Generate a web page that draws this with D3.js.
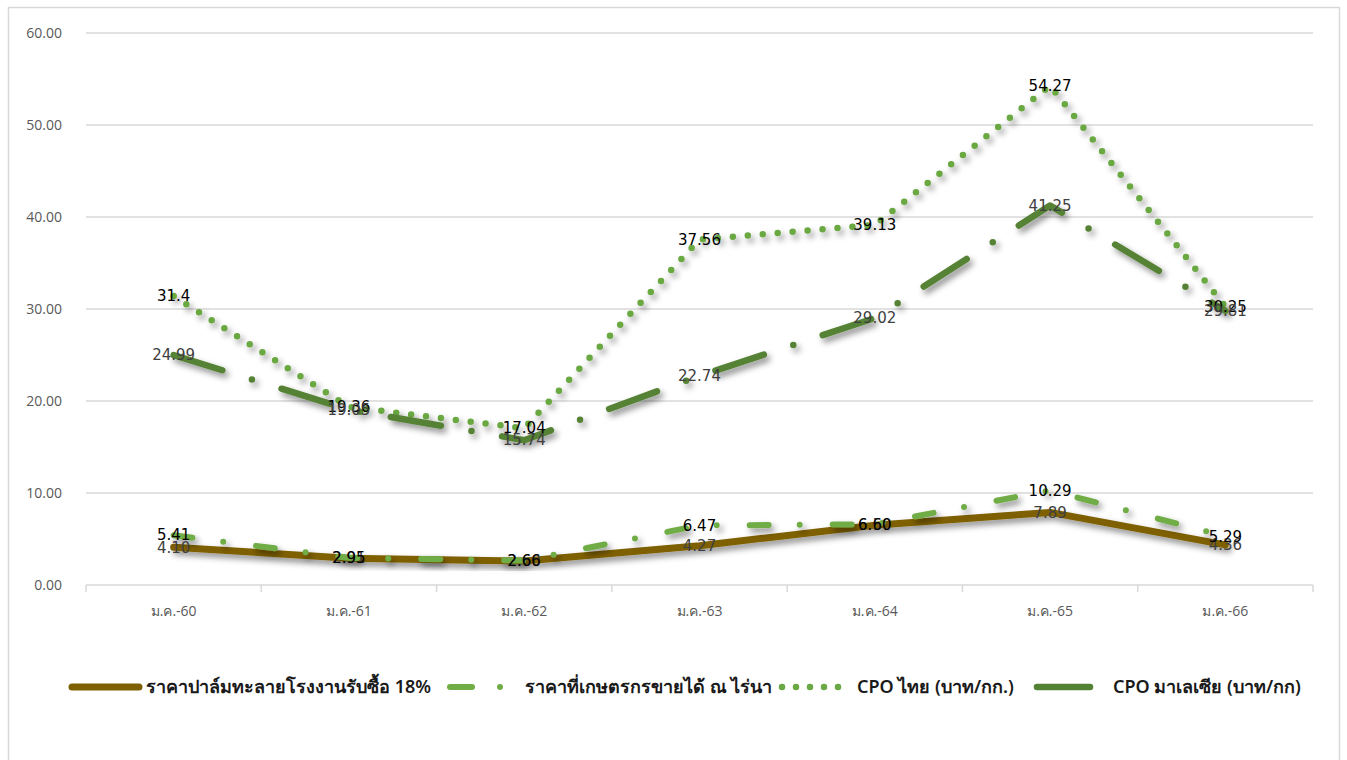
<!DOCTYPE html>
<html><head><meta charset="utf-8">
<script src="https://cdn.jsdelivr.net/npm/d3@7"></script>
<style>
body{margin:0;background:#fff;}
svg{display:block;}
</style></head>
<body>
<svg id="chart" width="1347" height="760"></svg>
<script>
const categories = ["ม.ค.-60","ม.ค.-61","ม.ค.-62","ม.ค.-63","ม.ค.-64","ม.ค.-65","ม.ค.-66"];
const palmFactory = [4.10, 2.91, 2.60, 4.27, 6.50, 7.89, 4.36];
const farmGate    = [5.41, 2.95, 2.66, 6.47, 6.60, 10.29, 5.29];
const cpoThai     = [31.4, 19.36, 17.04, 37.56, 39.13, 54.27, 30.25];
const cpoMalaysia = [24.99, 19.05, 15.74, 22.74, 29.02, 41.25, 29.81];
const yTicks = [0, 10, 20, 30, 40, 50, 60];
const seriesNames = ["ราคาปาล์มทะลายโรงงานรับซื้อ 18%","ราคาที่เกษตรกรขายได้ ณ ไร่นา","CPO ไทย (บาท/กก.)","CPO มาเลเซีย (บาท/กก)"];
const labelText = [
  palmFactory.map(v=>v.toFixed(2)),
  farmGate.map(v=>v.toFixed(2)),
  ["31.4","19.36","17.04","37.56","39.13","54.27","30.25"],
  cpoMalaysia.map(v=>v.toFixed(2))
];

const series = [
  {name:seriesNames[0], values:palmFactory, color:"#7F6000", width:7, dash:null, label:"#404040"},
  {name:seriesNames[1], values:farmGate, color:"#70AD47", width:6, dash:"19 31 0 33", label:"#000"},
  {name:seriesNames[2], values:cpoThai, color:"#6AA843", width:6.5, dash:"0 15", label:"#000"},
  {name:seriesNames[3], values:cpoMalaysia, color:"#548235", width:6.5, dash:"51 31 0 31", label:"#404040"}
];

const svg = d3.select("#chart");
const defs = svg.append("defs");
const f = defs.append("filter").attr("id","shadow").attr("x","-10%").attr("y","-10%").attr("width","130%").attr("height","130%");
f.append("feDropShadow").attr("dx",3).attr("dy",4).attr("stdDeviation",3).attr("flood-color","#000").attr("flood-opacity",0.45);

// outer border
svg.append("rect").attr("x",8.5).attr("y",7.5).attr("width",1331).attr("height",760)
  .attr("fill","#fff").attr("stroke","#d9d9d9").attr("stroke-width",1.5);

const x = d3.scaleBand().domain(categories).range([86,1313]);
const y = d3.scaleLinear().domain([0,60]).range([585,33]);
const fontUI = "'Open Sans','Noto Sans','DejaVu Sans',sans-serif";

// gridlines
svg.append("g").selectAll("line").data(yTicks.filter(d=>d>0)).join("line")
  .attr("x1",86).attr("x2",1313).attr("y1",d=>y(d)).attr("y2",d=>y(d))
  .attr("stroke","#d9d9d9").attr("stroke-width",1.5);

// y axis labels
const yAxis = d3.axisLeft(y).tickValues(yTicks).tickFormat(d=>d.toFixed(2)).tickSize(0).tickPadding(24);
const gy = svg.append("g").attr("transform","translate(86,0)").call(yAxis);
gy.select(".domain").remove();
gy.selectAll("text").attr("fill","#595959").style("font-family",fontUI).style("font-size","14px");

// x axis
const gx = svg.append("g").attr("transform","translate(0,585)");
gx.append("line").attr("x1",86).attr("x2",1313).attr("stroke","#d9d9d9").attr("stroke-width",1.5);
const bounds = categories.map(c=>x(c)).concat([x(categories[categories.length-1])+x.bandwidth()]);
gx.selectAll(".tk").data(bounds).join("line").attr("class","tk")
  .attr("x1",d=>d).attr("x2",d=>d).attr("y1",0).attr("y2",7).attr("stroke","#d9d9d9").attr("stroke-width",1.5);
gx.selectAll(".cl").data(categories).join("text").attr("class","cl")
  .attr("x",d=>x(d)+x.bandwidth()/2).attr("y",31).attr("text-anchor","middle")
  .attr("fill","#595959").style("font-family",fontUI).style("font-size","14px").text(d=>d);

const cx = i => x(categories[i]) + x.bandwidth()/2;
const line = d3.line().x((d,i)=>cx(i)).y(d=>y(d));

// lines
const gl = svg.append("g");
series.forEach(s=>{
  gl.append("path").attr("d",line(s.values)).attr("fill","none")
    .attr("stroke",s.color).attr("stroke-width",s.width)
    .attr("stroke-linecap","round").attr("stroke-linejoin","round")
    .attr("stroke-dasharray",s.dash)
    .attr("filter","url(#shadow)");
});

// data labels
const glab = svg.append("g");
series.forEach((s,si)=>{
  glab.selectAll(null).data(s.values).join("text")
    .attr("x",(d,i)=>cx(i)).attr("y",d=>y(d)).attr("dy","0.35em")
    .attr("text-anchor","middle").attr("fill",s.label)
    .style("font-family","'DejaVu Sans',sans-serif").style("font-size","15px")
    .text((d,i)=>labelText[si][i]);
});

// legend
const ly = 687;
const lg = svg.append("g").style("font-family","'Noto Sans','Open Sans',sans-serif").style("font-size","18px").style("font-weight","600");
// item 1
lg.append("line").attr("x1",72).attr("x2",139).attr("y1",ly).attr("y2",ly).attr("stroke",series[0].color).attr("stroke-width",7).attr("stroke-linecap","round");
lg.append("text").attr("x",146).attr("y",ly).attr("dy","0.35em").attr("fill","#1a1a1a").text(seriesNames[0]);
// item 2
lg.append("line").attr("x1",450).attr("x2",472).attr("y1",ly).attr("y2",ly).attr("stroke",series[1].color).attr("stroke-width",6).attr("stroke-linecap","round");
lg.append("circle").attr("cx",500).attr("cy",ly).attr("r",3).attr("fill",series[1].color);
lg.append("text").attr("x",525).attr("y",ly).attr("dy","0.35em").attr("fill","#1a1a1a").text(seriesNames[1]);
// item 3
lg.append("line").attr("x1",782).attr("x2",839).attr("y1",ly).attr("y2",ly).attr("stroke",series[2].color).attr("stroke-width",6.5).attr("stroke-linecap","round").attr("stroke-dasharray","0 14");
lg.append("text").attr("x",857).attr("y",ly).attr("dy","0.35em").attr("fill","#1a1a1a").text(seriesNames[2]);
// item 4
lg.append("line").attr("x1",1037).attr("x2",1090).attr("y1",ly).attr("y2",ly).attr("stroke",series[3].color).attr("stroke-width",6.5).attr("stroke-linecap","round");
lg.append("text").attr("x",1113).attr("y",ly).attr("dy","0.35em").attr("fill","#1a1a1a").text(seriesNames[3]);
</script>
</body></html>
